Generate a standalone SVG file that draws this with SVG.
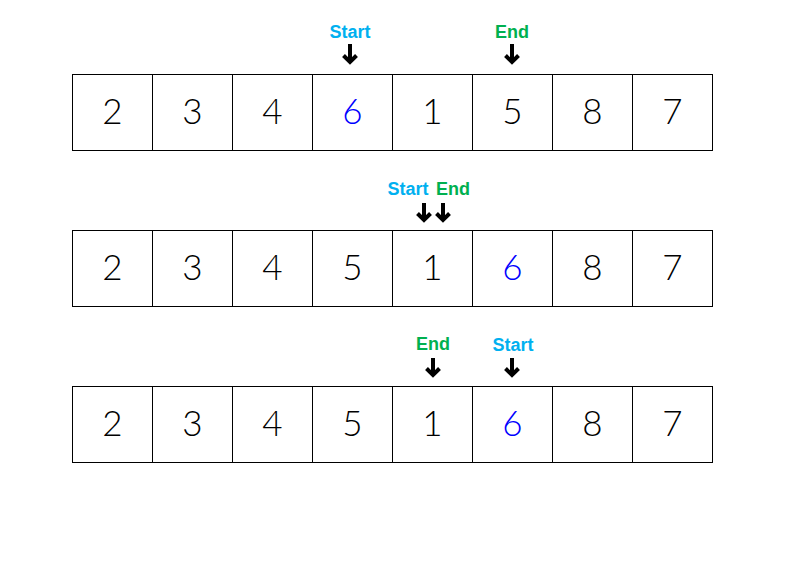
<svg xmlns="http://www.w3.org/2000/svg" width="791" height="581" viewBox="0 0 791 581">
<style>
.cell{fill:#fff;stroke:#000;stroke-width:1}
.num{font-family:"Lato","Liberation Sans",sans-serif;font-weight:300;font-size:35px;text-anchor:middle;fill:#000}
.blue{fill:#0000ff}
.lbl{font-family:"Liberation Sans",sans-serif;font-weight:bold;font-size:18px;text-anchor:middle}
.st{fill:#00b0f0}
.en{fill:#00b050}
.arr{fill:none;stroke:#000;stroke-width:4;stroke-linecap:butt;stroke-linejoin:miter}
</style>
<rect width="791" height="581" fill="#fff"/>
<g id="row1">
<g id="r1c1"><rect class="cell" x="72.5" y="74.5" width="80" height="76"/><text class="num" x="112.5" y="124">2</text></g>
<g id="r1c2"><rect class="cell" x="152.5" y="74.5" width="80" height="76"/><text class="num" x="192.5" y="124">3</text></g>
<g id="r1c3"><rect class="cell" x="232.5" y="74.5" width="80" height="76"/><text class="num" x="272.5" y="124">4</text></g>
<g id="r1c4"><rect class="cell" x="312.5" y="74.5" width="80" height="76"/><text class="num blue" x="352.5" y="124">6</text></g>
<g id="r1c5"><rect class="cell" x="392.5" y="74.5" width="80" height="76"/><text class="num" x="432.5" y="124">1</text></g>
<g id="r1c6"><rect class="cell" x="472.5" y="74.5" width="80" height="76"/><text class="num" x="512.5" y="124">5</text></g>
<g id="r1c7"><rect class="cell" x="552.5" y="74.5" width="80" height="76"/><text class="num" x="592.5" y="124">8</text></g>
<g id="r1c8"><rect class="cell" x="632.5" y="74.5" width="80" height="76"/><text class="num" x="672.5" y="124">7</text></g>
</g>
<g id="row2">
<g id="r2c1"><rect class="cell" x="72.5" y="230.5" width="80" height="76"/><text class="num" x="112.5" y="280">2</text></g>
<g id="r2c2"><rect class="cell" x="152.5" y="230.5" width="80" height="76"/><text class="num" x="192.5" y="280">3</text></g>
<g id="r2c3"><rect class="cell" x="232.5" y="230.5" width="80" height="76"/><text class="num" x="272.5" y="280">4</text></g>
<g id="r2c4"><rect class="cell" x="312.5" y="230.5" width="80" height="76"/><text class="num" x="352.5" y="280">5</text></g>
<g id="r2c5"><rect class="cell" x="392.5" y="230.5" width="80" height="76"/><text class="num" x="432.5" y="280">1</text></g>
<g id="r2c6"><rect class="cell" x="472.5" y="230.5" width="80" height="76"/><text class="num blue" x="512.5" y="280">6</text></g>
<g id="r2c7"><rect class="cell" x="552.5" y="230.5" width="80" height="76"/><text class="num" x="592.5" y="280">8</text></g>
<g id="r2c8"><rect class="cell" x="632.5" y="230.5" width="80" height="76"/><text class="num" x="672.5" y="280">7</text></g>
</g>
<g id="row3">
<g id="r3c1"><rect class="cell" x="72.5" y="386.5" width="80" height="76"/><text class="num" x="112.5" y="436">2</text></g>
<g id="r3c2"><rect class="cell" x="152.5" y="386.5" width="80" height="76"/><text class="num" x="192.5" y="436">3</text></g>
<g id="r3c3"><rect class="cell" x="232.5" y="386.5" width="80" height="76"/><text class="num" x="272.5" y="436">4</text></g>
<g id="r3c4"><rect class="cell" x="312.5" y="386.5" width="80" height="76"/><text class="num" x="352.5" y="436">5</text></g>
<g id="r3c5"><rect class="cell" x="392.5" y="386.5" width="80" height="76"/><text class="num" x="432.5" y="436">1</text></g>
<g id="r3c6"><rect class="cell" x="472.5" y="386.5" width="80" height="76"/><text class="num blue" x="512.5" y="436">6</text></g>
<g id="r3c7"><rect class="cell" x="552.5" y="386.5" width="80" height="76"/><text class="num" x="592.5" y="436">8</text></g>
<g id="r3c8"><rect class="cell" x="632.5" y="386.5" width="80" height="76"/><text class="num" x="672.5" y="436">7</text></g>
</g>
<g id="labels">
<text class="lbl st" x="350" y="38">Start</text>
<text class="lbl en" x="512" y="38">End</text>
<text class="lbl st" x="408" y="195">Start</text>
<text class="lbl en" x="453" y="195">End</text>
<text class="lbl en" x="433" y="350">End</text>
<text class="lbl st" x="513" y="351">Start</text>
</g>
<g id="connectors">
<path class="arr" d="M350,44V62M343.5,55.5L350,62L356.5,55.5"/>
<path class="arr" d="M512,44V62M505.5,55.5L512,62L518.5,55.5"/>
<path class="arr" d="M424,203V220M417.5,213.5L424,220L430.5,213.5"/>
<path class="arr" d="M443,203V220M436.5,213.5L443,220L449.5,213.5"/>
<path class="arr" d="M433,358V375M426.5,368.5L433,375L439.5,368.5"/>
<path class="arr" d="M512,358V375M505.5,368.5L512,375L518.5,368.5"/>
</g>
</svg>
